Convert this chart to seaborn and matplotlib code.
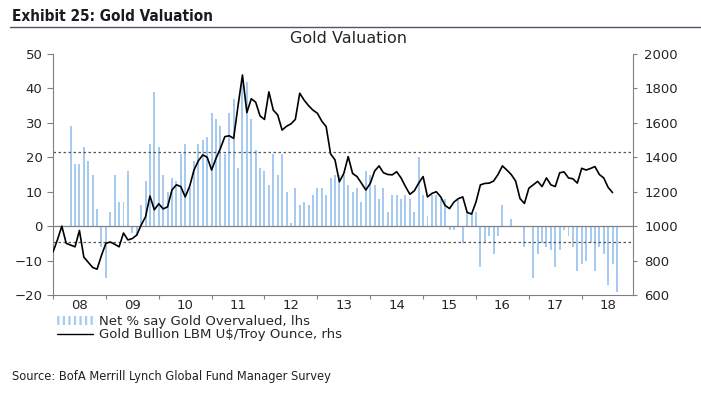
import numpy as np
import pandas as pd
import matplotlib
matplotlib.use("Agg")
import matplotlib.pyplot as plt
import seaborn as sns
from matplotlib.patches import Patch
from matplotlib.lines import Line2D

# Net % of fund managers saying gold is overvalued (monthly, from May 2008)
survey_start = "2008-05-01"
net_overvalued = [
    29, 18, 18, 23, 19, 15, 5, -6,                          # 2008 May-Dec
    -15, 4, 15, 7, 7, 16, -2, -3, 6, 13, 24, 39,            # 2009
    23, 15, 10, 14, 13, 21, 24, 11, 19, 24, 25, 26,         # 2010
    33, 31, 29, 21, 33, 37, 17, 43, 42, 31, 22, 17,         # 2011
    16, 12, 21, 15, 21, 10, 1, 11, 6, 7, 6, 9,              # 2012
    11, 11, 9, 14, 15, 15, 15, 12, 10, 11, 7, 16,           # 2013
    15, 12, 8, 11, 4, 9, 9, 8, 9, 8, 4, 20,                 # 2014
    9, 3, 9, 9, 8, 8, -1, -1, 8, -5, 4, 4,                  # 2015
    4, -12, -5, -3, -8, -3, 6, 0, 2, 0, 0, -6,              # 2016
    0, -15, -8, -5, -6, -7, -12, -7, -1, -3, -6, -13,       # 2017
    -11, -10, -5, -13, -6, -8, -17, -11, -19,               # 2018 Jan-Sep
]

# Gold bullion LBM US$/troy ounce (monthly, from Jan 2008)
gold_start = "2008-01-01"
gold_price = [
    850, 920, 1000, 900, 890, 880, 975, 820, 790, 760, 750, 830,
    900, 908, 895, 880, 960, 920, 928, 948, 1006, 1054, 1175, 1095,
    1130, 1100, 1112, 1210, 1240, 1230, 1170, 1230, 1326, 1380, 1414, 1400,
    1326, 1394, 1452, 1520, 1525, 1510, 1700, 1878, 1660, 1740, 1720, 1640,
    1620, 1780, 1674, 1646, 1558, 1580, 1594, 1620, 1772, 1732, 1700, 1674,
    1656, 1610, 1578, 1420, 1385, 1258, 1306, 1404, 1306, 1288, 1250, 1210,
    1248, 1320, 1350, 1310, 1300, 1298, 1316, 1280, 1230, 1185, 1205, 1250,
    1288, 1170, 1190, 1200, 1170, 1120, 1102, 1140, 1160, 1170, 1080, 1070,
    1140, 1240, 1248, 1250, 1262, 1300, 1350, 1326, 1300, 1262, 1160, 1132,
    1220, 1240, 1260, 1230, 1280, 1240, 1230, 1310, 1315, 1280, 1275, 1250,
    1336, 1326, 1335, 1346, 1300, 1280, 1225, 1195,
]

year_labels = ["08", "09", "10", "11", "12", "13", "14", "15", "16", "17", "18"]
upper_band = 21.5
lower_band = -4.5

bar_color = "#A6CAF0"
gray = "#808080"
text_color = "#262626"


def to_year(start, n):
    d = pd.date_range(start, periods=n, freq="MS")
    return np.asarray(d.year + (d.month - 1) / 12.0)


survey_df = pd.DataFrame({"date": to_year(survey_start, len(net_overvalued)),
                          "net": net_overvalued})
gold_df = pd.DataFrame({"date": to_year(gold_start, len(gold_price)),
                        "gold": gold_price})

sns.set_theme(style="white")
plt.rcParams["font.family"] = ["DejaVu Sans"]
plt.rcParams["hatch.linewidth"] = 1.6

fig = plt.figure(figsize=(7.01, 3.96), dpi=100)
ax = fig.add_axes([53 / 701, 1 - 295 / 396, 580 / 701, 241 / 396])

sns.barplot(data=survey_df, x="date", y="net", native_scale=True,
            color=bar_color, saturation=1, width=0.45, errorbar=None,
            linewidth=0, ax=ax)

ax.axhline(0, color=gray, lw=0.9)
ax.axhline(upper_band, color="#555555", lw=0.9, ls=(0, (2, 2)))
ax.axhline(lower_band, color="#555555", lw=0.9, ls=(0, (2, 2)))

ax2 = ax.twinx()
sns.lineplot(data=gold_df, x="date", y="gold", ax=ax2, color="black", lw=1.2)

ax.set_xlim(2008, 2018.97)
ax.set_ylim(-20, 50)
ax2.set_ylim(600, 2000)
ax.set_xlabel("")
ax.set_ylabel("")
ax2.set_ylabel("")

# year boundaries as ticks, labels in the middle of each year
ax.set_xticks(np.arange(2008, 2019))
ax.set_xticklabels([""] * 11)
ax.set_xticks(np.arange(2008.5, 2019, 1.0), minor=True)
ax.set_xticklabels(year_labels, minor=True)
ax.tick_params(axis="x", which="major", bottom=True, length=3, width=0.8,
               color=gray, direction="out")
ax.tick_params(axis="x", which="minor", bottom=True, length=0, pad=3,
               labelsize=9.5, labelcolor=text_color)

ax.set_yticks(range(-20, 51, 10))
ax.tick_params(axis="y", left=True, length=4, width=0.8, color=gray,
               direction="out", pad=3.5, labelsize=9.5, labelcolor=text_color)
ax2.set_yticks(range(600, 2001, 200))
ax2.tick_params(axis="y", right=True, length=3, width=0.8, color=gray,
                direction="out", pad=5, labelsize=9.5, labelcolor=text_color)

for a in (ax, ax2):
    for s in a.spines.values():
        s.set_visible(False)
ax.spines["left"].set_visible(True)
ax.spines["bottom"].set_visible(True)
ax2.spines["right"].set_visible(True)
for s in (ax.spines["left"], ax.spines["bottom"], ax2.spines["right"]):
    s.set_color(gray)
    s.set_linewidth(0.8)

narrow = ["Liberation Sans Narrow", "DejaVu Sans"]

fig.text(12 / 701, 1 - 21 / 396, "Exhibit 25: Gold Valuation", fontsize=11,
         fontweight="bold", family=narrow, fontstretch="condensed",
         va="baseline", color="#1a1a1a")
fig.add_artist(Line2D([10 / 701, 1], [1 - 27 / 396] * 2,
                      transform=fig.transFigure, color="#4d5566", lw=1))
fig.text(349 / 701, 1 - 43 / 396, "Gold Valuation", ha="center",
         va="baseline", fontsize=11.5, color=text_color)

handles = [Patch(facecolor="white", edgecolor=bar_color, hatch="|||", lw=0),
           Line2D([], [], color="black", lw=1)]
labels = ["Net % say Gold Overvalued, lhs",
          "Gold Bullion LBM U$/Troy Ounce, rhs"]
fig.legend(handles, labels, loc="upper left",
           bbox_to_anchor=(57 / 701, 1 - 315 / 396), frameon=False,
           fontsize=9.5, handlelength=2.7, handleheight=0.6,
           handletextpad=0.5, labelspacing=0.0, borderpad=0,
           borderaxespad=0, labelcolor=text_color)

fig.text(12 / 701, 1 - 380 / 396,
         "Source: BofA Merrill Lynch Global Fund Manager Survey",
         fontsize=9.2, family=narrow, fontstretch="condensed",
         va="baseline", color="#222222")

fig.savefig("out.png", dpi=100)
